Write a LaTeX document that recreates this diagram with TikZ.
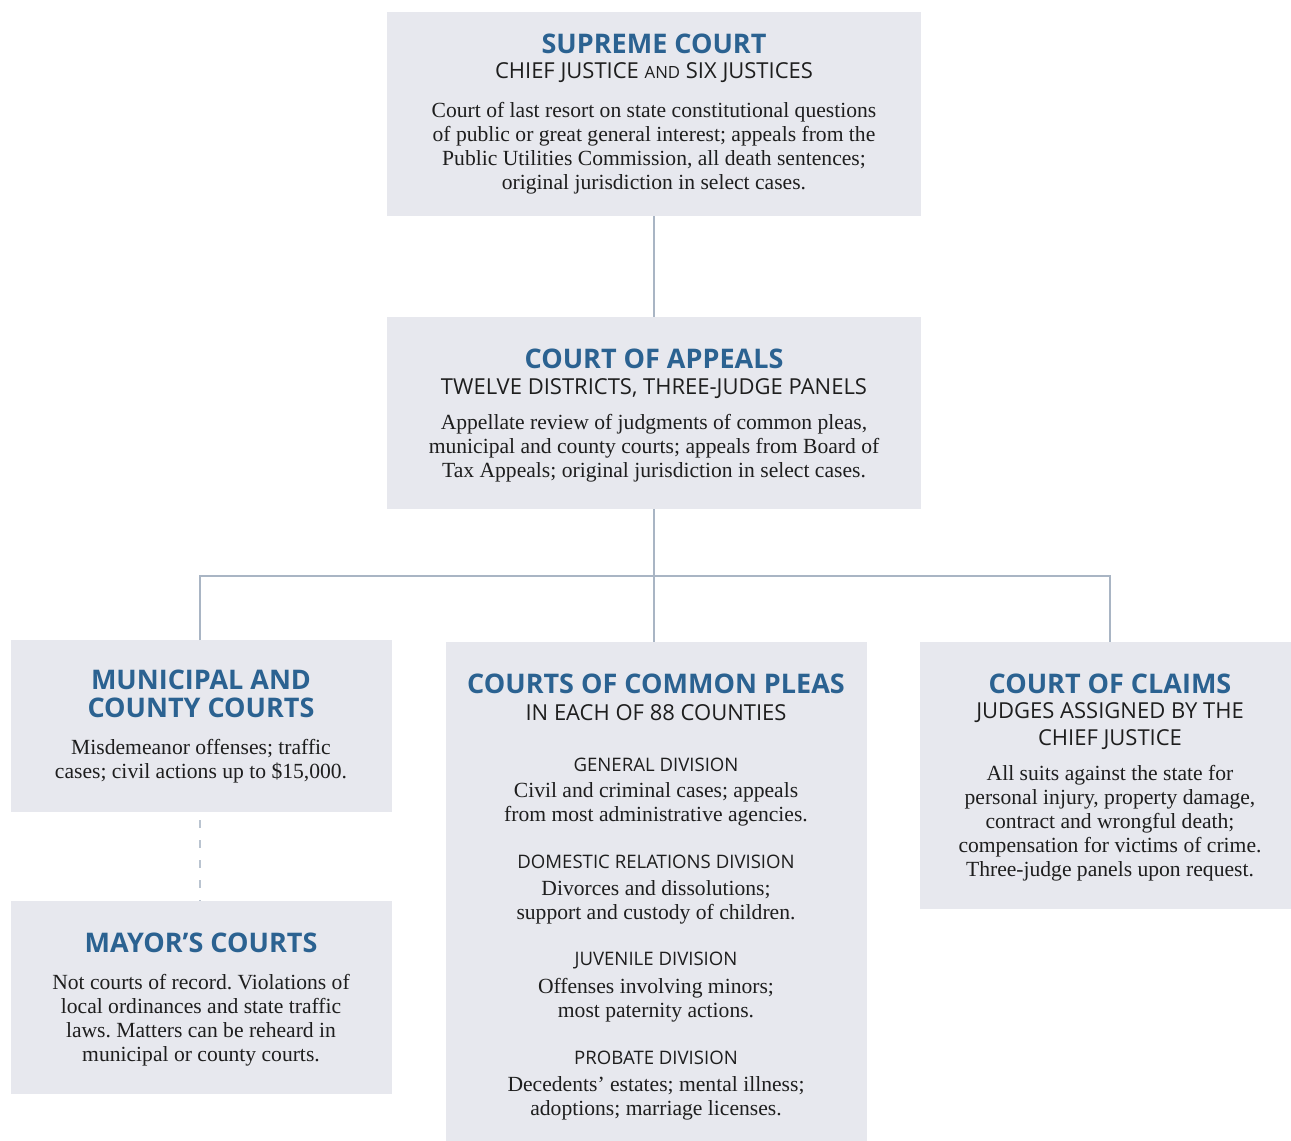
\documentclass[tikz,border=0pt]{standalone}
\usepackage{fontspec}
\setmainfont{Liberation Serif}
\newfontfamily\headfont{Open Sans}
\usetikzlibrary{fit}
\frenchspacing

\definecolor{boxgray}{HTML}{E7E8EE}
\definecolor{titleblue}{HTML}{2B6291}
\definecolor{linegray}{HTML}{A9B5C4}
\definecolor{inkblack}{HTML}{1E1E1E}

\tikzset{
	courtbox/.style={fill=boxgray, inner sep=0pt},
	conn/.style={draw=linegray, line width=0.8pt},
	ctitle/.style={text=titleblue, align=center, inner sep=0pt,
		font=\headfont\bfseries\fontsize{13.5}{14}\selectfont},
	csub/.style={text=inkblack, align=center, inner sep=0pt,
		font=\headfont\fontsize{11}{13.5}\selectfont},
	division/.style={text=inkblack, inner sep=0pt,
		font=\headfont\fontsize{9.3}{12}\selectfont},
	cbody/.style={text=inkblack, align=center, inner sep=0pt,
		font=\fontsize{10.8}{12}\selectfont}
}
\newcommand{\smallword}[1]{{\fontsize{8.4}{8}\selectfont #1}}

\begin{document}
\begin{tikzpicture}[x=0.5pt, y=-0.5pt]
	\useasboundingbox (0,0) rectangle (1291,1141);
	% boxes
	\node[courtbox, fit={(387,12) (921,216)}] (sup) {};
	\node[courtbox, fit={(387,317) (921,509)}] (app) {};
	\node[courtbox, fit={(11,640) (392,812)}] (mun) {};
	\node[courtbox, fit={(11,901) (392,1094)}] (may) {};
	\node[courtbox, fit={(446,642) (867,1141)}] (cp) {};
	\node[courtbox, fit={(920,642) (1291,909)}] (cla) {};
	% supreme court
	\node[ctitle] (supT) at (654,44) {SUPREME COURT};
	\node[csub] (supS) at (654,73) {CHIEF JUSTICE \smallword{AND} SIX JUSTICES};
	\node[cbody] (supB) at (654,148) {Court of last resort on state constitutional questions\\
		of public or great general interest; appeals from the\\
		Public Utilities Commission, all death sentences;\\
		original jurisdiction in select cases.};
	% court of appeals
	\node[ctitle] (appT) at (654,359) {COURT OF APPEALS};
	\node[csub] (appS) at (654,389) {TWELVE DISTRICTS, THREE-JUDGE PANELS};
	\node[cbody] (appB) at (654,448) {Appellate review of judgments of common pleas,\\
		municipal and county courts; appeals from Board of\\
		Tax Appeals; original jurisdiction in select cases.};
	% municipal and county
	\node[ctitle] (munT) at (201,694) {MUNICIPAL AND\\COUNTY COURTS};
	\node[cbody] (munB) at (201,761) {Misdemeanor offenses; traffic\\
		cases; civil actions up to \$15,000.};
	% mayor's courts
	\node[ctitle] (mayT) at (201,943) {MAYOR’S COURTS};
	\node[cbody] (mayB) at (201,1020) {Not courts of record. Violations of\\
		local ordinances and state traffic\\
		laws. Matters can be reheard in\\
		municipal or county courts.};
	% common pleas
	\node[ctitle] (cpT) at (656,684) {COURTS OF COMMON PLEAS};
	\node[csub] (cpS) at (656,713) {IN EACH OF 88 COUNTIES};
	\node[division] (genD) at (656,765) {GENERAL DIVISION};
	\node[cbody] (genB) at (656,804) {Civil and criminal cases; appeals\\
		from most administrative agencies.};
	\node[division] (domD) at (656,862) {DOMESTIC RELATIONS DIVISION};
	\node[cbody] (domB) at (656,902) {Divorces and dissolutions;\\
		support and custody of children.};
	\node[division] (juvD) at (656,960) {JUVENILE DIVISION};
	\node[cbody] (juvB) at (656,1000) {Offenses involving minors;\\
		most paternity actions.};
	\node[division] (proD) at (656,1058) {PROBATE DIVISION};
	\node[cbody] (proB) at (656,1098) {Decedents’ estates; mental illness;\\
		adoptions; marriage licenses.};
	% court of claims
	\node[ctitle] (claT) at (1110,684) {COURT OF CLAIMS};
	\node[csub] (claS) at (1110,726) {JUDGES ASSIGNED BY THE\\CHIEF JUSTICE};
	\node[cbody] (claB) at (1110,823) {All suits against the state for\\
		personal injury, property damage,\\
		contract and wrongful death;\\
		compensation for victims of crime.\\
		Three-judge panels upon request.};
	% connectors
	\coordinate (split) at (654,576);
	\coordinate (munTop) at (200,640);
	\coordinate (claTop) at (1110,642);
	\draw[conn] (sup.south) -- (app.north);
	\draw[conn] (app.south) -- (split);
	\draw[conn] (munTop) |- (split) -| (claTop);
	\draw[conn] (split) -- (cp.north -| split);
	\draw[conn, draw=linegray!80, dash pattern=on 4pt off 6pt, dash phase=-4pt] (mun.south -| munTop) -- (may.north -| munTop);
\end{tikzpicture}
\end{document}
